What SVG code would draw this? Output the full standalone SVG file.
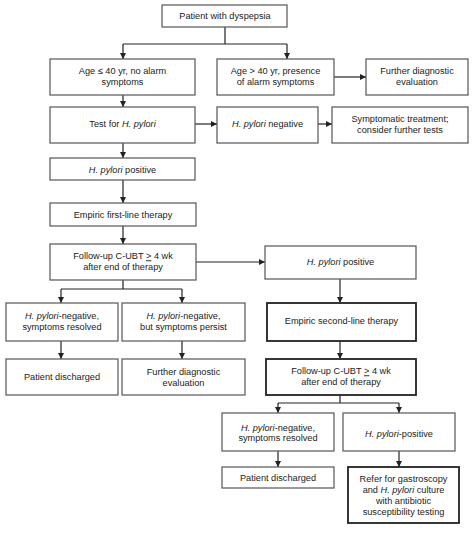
<svg xmlns="http://www.w3.org/2000/svg" width="474" height="540" viewBox="0 0 474 540">
<style>
rect{fill:#fff;stroke:#555;stroke-width:1.2}
rect.thick{stroke:#222;stroke-width:1.8}
text{font-family:"Liberation Sans",Arial,sans-serif;font-size:9.2px;fill:#222;text-anchor:middle}
.i{font-style:italic}
.u{text-decoration:underline}
#connectors path{fill:none;stroke:#222;stroke-width:1.2}
</style>
<defs>
<marker id="ah" markerUnits="userSpaceOnUse" markerWidth="6" markerHeight="6" refX="6" refY="3" orient="auto">
<path d="M0,0 L6,3 L0,6 Z" fill="#222"/>
</marker>
</defs>
<rect x="0" y="0" width="474" height="540" style="fill:#fff;stroke:none"/>
<g id="connectors">
<path d="M225,27 V44 M123,44 H287"/>
<path d="M123,44 V59" marker-end="url(#ah)"/>
<path d="M287,44 V59" marker-end="url(#ah)"/>
<path d="M334,77 H366" marker-end="url(#ah)"/>
<path d="M123,95 V107" marker-end="url(#ah)"/>
<path d="M195,124 H217" marker-end="url(#ah)"/>
<path d="M318,124 H332" marker-end="url(#ah)"/>
<path d="M123,143 V158" marker-end="url(#ah)"/>
<path d="M123,180 V203" marker-end="url(#ah)"/>
<path d="M123,226 V244" marker-end="url(#ah)"/>
<path d="M196,262 H265" marker-end="url(#ah)"/>
<path d="M123,280 V289 M61,289 H182"/>
<path d="M61,289 V303" marker-end="url(#ah)"/>
<path d="M182,289 V303" marker-end="url(#ah)"/>
<path d="M61,341 V359" marker-end="url(#ah)"/>
<path d="M182,341 V359" marker-end="url(#ah)"/>
<path d="M340,279 V303" marker-end="url(#ah)"/>
<path d="M340,341 V359" marker-end="url(#ah)"/>
<path d="M340,395 V403 M278,403 H399"/>
<path d="M278,403 V413" marker-end="url(#ah)"/>
<path d="M399,403 V413" marker-end="url(#ah)"/>
<path d="M278,451 V467" marker-end="url(#ah)"/>
<path d="M399,451 V467" marker-end="url(#ah)"/>
</g>
<g id="n1"><rect x="162" y="5" width="125" height="22"/><text x="225" y="19.3">Patient with dyspepsia</text></g>
<g id="n2"><rect x="50" y="59" width="145" height="36"/><text x="122.5" y="74.3">Age ≤ 40 yr, no alarm</text><text x="122.5" y="85.3">symptoms</text></g>
<g id="n3"><rect x="217" y="59" width="117" height="36"/><text x="275.5" y="74.3">Age &gt; 40 yr, presence</text><text x="275.5" y="85.3">of alarm symptoms</text></g>
<g id="n4"><rect x="366" y="59" width="102" height="36"/><text x="417" y="74.3">Further diagnostic</text><text x="417" y="85.3">evaluation</text></g>
<g id="n5"><rect x="50" y="107" width="145" height="36"/><text x="122.5" y="127.3">Test for <tspan class="i">H. pylori</tspan></text></g>
<g id="n6"><rect x="217" y="107" width="101" height="36"/><text x="267.5" y="127.3"><tspan class="i">H. pylori</tspan> negative</text></g>
<g id="n7"><rect x="332" y="107" width="136" height="36"/><text x="400" y="121.5">Symptomatic treatment;</text><text x="400" y="132.5">consider further tests</text></g>
<g id="n8"><rect x="50" y="158" width="145" height="22"/><text x="122.5" y="172.5"><tspan class="i">H. pylori</tspan> positive</text></g>
<g id="n9"><rect x="50" y="203" width="146" height="23"/><text x="123" y="218">Empiric first-line therapy</text></g>
<g id="n10"><rect x="50" y="244" width="146" height="36"/><text x="123" y="259.3">Follow-up C-UBT <tspan class="u">&gt;</tspan> 4 wk</text><text x="123" y="270.3">after end of therapy</text></g>
<g id="n11"><rect x="265" y="246" width="151" height="33"/><text x="340.5" y="265.3"><tspan class="i">H. pylori</tspan> positive</text></g>
<g id="n12"><rect x="6" y="303" width="112" height="38"/><text x="62" y="318.5"><tspan class="i">H. pylori</tspan>-negative,</text><text x="62" y="329.5">symptoms resolved</text></g>
<g id="n13"><rect x="122" y="303" width="123" height="38"/><text x="183.5" y="318.5"><tspan class="i">H. pylori</tspan>-negative,</text><text x="183.5" y="329.5">but symptoms persist</text></g>
<g id="n14"><rect class="thick" x="267" y="303" width="149" height="38"/><text x="341.5" y="324.3">Empiric second-line therapy</text></g>
<g id="n15"><rect x="6" y="359" width="112" height="36"/><text x="62" y="380.3">Patient discharged</text></g>
<g id="n16"><rect x="122" y="359" width="123" height="36"/><text x="183.5" y="375.3">Further diagnostic</text><text x="183.5" y="386.3">evaluation</text></g>
<g id="n17"><rect class="thick" x="266" y="359" width="150" height="36"/><text x="341" y="374.3">Follow-up C-UBT <tspan class="u">&gt;</tspan> 4 wk</text><text x="341" y="385.3">after end of therapy</text></g>
<g id="n18"><rect x="222" y="413" width="112" height="38"/><text x="278" y="430.5"><tspan class="i">H. pylori</tspan>-negative,</text><text x="278" y="441">symptoms resolved</text></g>
<g id="n19"><rect x="343" y="413" width="112" height="38"/><text x="399" y="437"><tspan class="i">H. pylori</tspan>-positive</text></g>
<g id="n20"><rect x="222" y="467" width="112" height="21"/><text x="278" y="481">Patient discharged</text></g>
<g id="n21"><rect class="thick" x="348" y="467" width="111" height="56"/><text x="403.5" y="481.8">Refer for gastroscopy</text><text x="403.5" y="492.8">and <tspan class="i">H. pylori</tspan> culture</text><text x="403.5" y="503.8">with antibiotic</text><text x="403.5" y="514.8">susceptibility testing</text></g>
</svg>
